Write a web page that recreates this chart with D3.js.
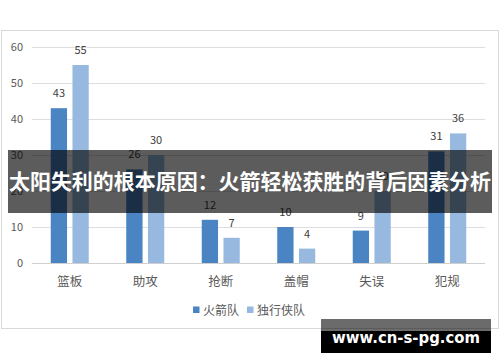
<!DOCTYPE html>
<html>
<meta charset="utf-8" />
<head>
    <script src="https://d3js.org/d3.v7.min.js"></script>
    <style>
        body { margin: 0; background: #fff; }
        text { font-family: "Noto Sans CJK SC", "Noto Sans", sans-serif; }
    </style>
</head>
<body>
    <div id="chart"></div>
    <script type="text/javascript">
        // chart data
        var categories = ["篮板", "助攻", "抢断", "盖帽", "失误", "犯规"];
        var seriesNames = ["火箭队", "独行侠队"];
        var rockets = [43, 26, 12, 10, 9, 31];
        var mavericks = [55, 30, 7, 4, 20, 36];
        var yTicks = [0, 10, 20, 30, 40, 50, 60];
        var title = "太阳失利的根本原因：火箭轻松获胜的背后因素分析";
        var watermark = "www.cn-s-pg.com";

        const W = 500, H = 362;
        var colors = d3.scaleOrdinal().domain(seriesNames).range(["#4a84c2", "#97b9e0"]);

        var svg = d3.select("#chart").append("svg")
            .attr("width", W)
            .attr("height", H);

        // chart frame
        svg.append("rect")
            .attr("x", 1.5).attr("y", 30.5)
            .attr("width", 497).attr("height", 298)
            .attr("fill", "#fff")
            .attr("stroke", "#d9d9d9");

        var x0 = d3.scaleBand().domain(categories).range([32, 485]);
        var x1 = d3.scaleBand().domain(seriesNames)
            .range([x0.bandwidth() / 2 - 19, x0.bandwidth() / 2 + 19])
            .paddingInner(0.25);
        var y = d3.scaleLinear().domain([0, 60]).range([263, 47]);

        // gridlines
        svg.append("g").selectAll("line")
            .data(yTicks)
            .enter()
            .append("line")
            .attr("x1", 32).attr("x2", 485)
            .attr("y1", d => Math.round(y(d)) + 0.5)
            .attr("y2", d => Math.round(y(d)) + 0.5)
            .attr("stroke", d => d === 0 ? "#cfcfcf" : "#dedede");

        // y tick labels
        svg.append("g").selectAll("text")
            .data(yTicks)
            .enter()
            .append("text")
            .attr("x", 23)
            .attr("y", d => y(d) + 4)
            .attr("text-anchor", "end")
            .attr("font-size", 11)
            .attr("fill", "#595959")
            .text(d => d);

        var rows = categories.map(function(c, i) {
            return { cat: c, vals: [
                { s: seriesNames[0], v: rockets[i] },
                { s: seriesNames[1], v: mavericks[i] }
            ]};
        });

        var groups = svg.append("g").selectAll("g")
            .data(rows)
            .enter()
            .append("g")
            .attr("transform", d => "translate(" + x0(d.cat) + ",0)");

        groups.selectAll("rect")
            .data(d => d.vals)
            .enter()
            .append("rect")
            .attr("x", d => x1(d.s))
            .attr("y", d => y(d.v))
            .attr("width", x1.bandwidth())
            .attr("height", d => y(0) - y(d.v))
            .attr("fill", d => colors(d.s));

        groups.selectAll("text.val")
            .data(d => d.vals)
            .enter()
            .append("text")
            .attr("class", "val")
            .attr("x", d => x1(d.s) + x1.bandwidth() / 2)
            .attr("y", d => y(d.v) - 11)
            .attr("text-anchor", "middle")
            .attr("font-size", 11)
            .attr("fill", "#404040")
            .text(d => d.v);

        // category labels
        svg.append("g").selectAll("text")
            .data(categories)
            .enter()
            .append("text")
            .attr("x", d => x0(d) + x0.bandwidth() / 2)
            .attr("y", 286)
            .attr("text-anchor", "middle")
            .attr("font-size", 12.5)
            .attr("fill", "#595959")
            .text(d => d);

        // legend
        var legendX = [193, 247];
        var legend = svg.append("g").selectAll("g")
            .data(seriesNames)
            .enter()
            .append("g")
            .attr("transform", (d, i) => "translate(" + legendX[i] + ",310)");
        legend.append("rect")
            .attr("x", 0).attr("y", -3.5)
            .attr("width", 6.5).attr("height", 6.5)
            .attr("fill", d => colors(d));
        legend.append("text")
            .attr("x", 10).attr("y", 4.5)
            .attr("font-size", 12)
            .attr("fill", "#595959")
            .text(d => d);

        // title band over the chart
        svg.append("rect")
            .attr("x", 8).attr("y", 150)
            .attr("width", 484).attr("height", 63)
            .attr("fill", "rgba(0,0,0,0.64)");
        svg.append("text")
            .attr("x", 9).attr("y", 189)
            .attr("font-size", 21)
            .attr("font-weight", "bold")
            .attr("fill", "#fff")
            .attr("textLength", 482)
            .attr("lengthAdjust", "spacingAndGlyphs")
            .text(title);

        // watermark
        svg.append("rect")
            .attr("x", 321).attr("y", 319)
            .attr("width", 170).attr("height", 12)
            .attr("fill", "rgba(0,0,0,0.58)");
        svg.append("rect")
            .attr("x", 321).attr("y", 331)
            .attr("width", 170).attr("height", 22)
            .attr("fill", "#000");
        svg.append("text")
            .attr("x", 332).attr("y", 343)
            .style("font-family", "'DejaVu Sans', sans-serif")
            .attr("font-size", 15)
            .attr("font-weight", "bold")
            .attr("fill", "#fff")
            .attr("textLength", 148)
            .attr("lengthAdjust", "spacingAndGlyphs")
            .text(watermark);
    </script>
</body>
</html>
